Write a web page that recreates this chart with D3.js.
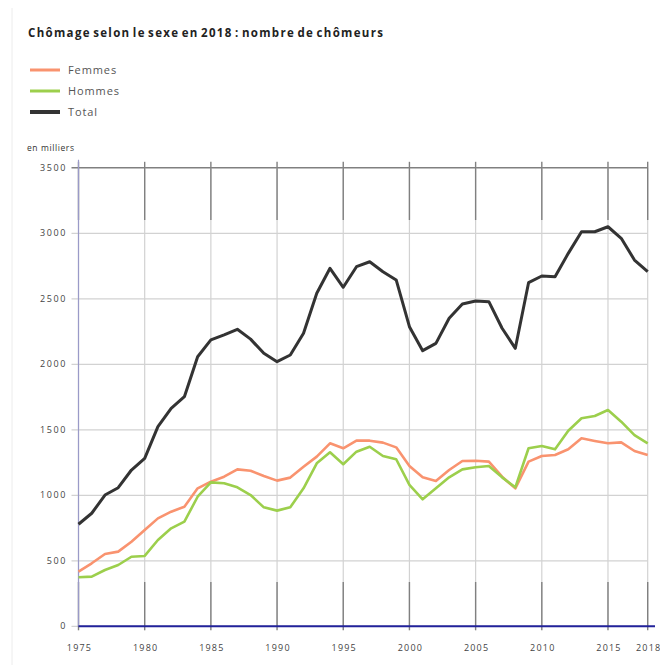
<!DOCTYPE html>
<html>
<head>
<meta charset="utf-8">
<script src="https://cdn.jsdelivr.net/npm/d3@7"></script>
<style>
  body { margin: 0; background: #fff; }
  svg text { font-family: "Open Sans", sans-serif; }
</style>
</head>
<body>
<svg id="chart" width="660" height="670"></svg>
<script>
// annees 1975 - 2018
const years = d3.range(1975, 2019);

// en milliers
const femmes = [417, 481, 552, 570, 646, 735, 824, 875, 913, 1053,
  1104, 1142, 1198, 1188, 1147, 1112, 1135, 1218, 1295, 1397,
  1359, 1417, 1417, 1402, 1366, 1224, 1137, 1109, 1193, 1262,
  1264, 1257, 1142, 1053, 1257, 1300, 1308, 1351, 1435, 1415,
  1397, 1404, 1338, 1308];

const hommes = [374, 379, 430, 468, 531, 537, 659, 748, 799, 989,
  1099, 1092, 1061, 1002, 908, 883, 908, 1053, 1244, 1328,
  1237, 1333, 1371, 1300, 1275, 1079, 969, 1053, 1137, 1198,
  1214, 1224, 1137, 1061, 1359, 1376, 1351, 1493, 1588, 1605,
  1651, 1562, 1460, 1397];

const total = [779, 863, 1002, 1058, 1193, 1282, 1524, 1664, 1753, 2058,
  2186, 2224, 2267, 2192, 2084, 2020, 2071, 2237, 2542, 2733,
  2588, 2745, 2783, 2707, 2644, 2287, 2104, 2160, 2351, 2460,
  2483, 2478, 2275, 2122, 2623, 2674, 2669, 2847, 3012, 3012,
  3050, 2962, 2796, 2707];

const xTicks = [1975, 1980, 1985, 1990, 1995, 2000, 2005, 2010, 2015, 2018];
const yTicks = [0, 500, 1000, 1500, 2000, 2500, 3000, 3500];

const series = [
  { name: "Femmes", values: femmes, color: "#f9936f", width: 2.6 },
  { name: "Hommes", values: hommes, color: "#9ccf4c", width: 2.6 },
  { name: "Total", values: total, color: "#333333", width: 3 }
];

const svg = d3.select("#chart");

const plotLeft = 78.5, plotRight = 647.7, plotTop = 167.8, plotBottom = 626.3;
const x = d3.scaleLinear().domain([1975, 2018]).range([plotLeft, plotRight]);
const y = d3.scaleLinear().domain([0, 3500]).range([plotBottom, plotTop]);

// petit trait de bordure a gauche
svg.append("line")
    .attr("x1", 12).attr("x2", 12).attr("y1", 8).attr("y2", 665)
    .style("stroke", "#ececec").style("stroke-width", 1);

// titre
svg.append("text")
    .attr("x", 28).attr("y", 37)
    .attr("textLength", 355)
    .attr("lengthAdjust", "spacing")
    .style("font-size", "11.5px")
    .style("font-weight", "bold")
    .style("fill", "#222")
    .style("word-spacing", "-2px")
    .text("Chômage selon le sexe en 2018 : nombre de chômeurs");

// legende
const legend = svg.append("g");
series.forEach((s, i) => {
    const ly = 70 + i * 21;
    legend.append("line")
        .attr("x1", 30).attr("x2", 60).attr("y1", ly).attr("y2", ly)
        .style("stroke", s.color)
        .style("stroke-width", s.name === "Total" ? 4 : 3);
    legend.append("text")
        .attr("x", 68).attr("y", ly + 4)
        .style("font-size", "11px")
        .style("fill", "#555")
        .style("letter-spacing", "0.9px")
        .text(s.name);
});

svg.append("text")
    .attr("x", 27).attr("y", 151)
    .style("font-size", "8.5px")
    .style("fill", "#333")
    .style("letter-spacing", "0.6px")
    .text("en milliers");

// grille horizontale
svg.append("g")
    .selectAll("line")
    .data(yTicks)
    .enter()
    .append("line")
    .attr("x1", plotLeft - 7).attr("x2", plotRight)
    .attr("y1", d => y(d)).attr("y2", d => y(d))
    .style("stroke", d => d === 3500 ? "#808080" : "#d2d2d2")
    .style("stroke-width", d => d === 3500 ? 1.4 : 1.2);

// grille verticale : clair au milieu, fonce en haut et en bas
const vgrid = svg.append("g");
vgrid.selectAll("line.light")
    .data(xTicks)
    .enter()
    .append("line")
    .attr("class", "light")
    .attr("x1", d => x(d)).attr("x2", d => x(d))
    .attr("y1", plotTop).attr("y2", plotBottom)
    .style("stroke", "#d2d2d2")
    .style("stroke-width", 1.2);
vgrid.selectAll("line.topTick")
    .data(xTicks)
    .enter()
    .append("line")
    .attr("class", "topTick")
    .attr("x1", d => x(d)).attr("x2", d => x(d))
    .attr("y1", plotTop - 6).attr("y2", 220)
    .style("stroke", "#808080")
    .style("stroke-width", 1.4);
vgrid.selectAll("line.botTick")
    .data(xTicks)
    .enter()
    .append("line")
    .attr("class", "botTick")
    .attr("x1", d => x(d)).attr("x2", d => x(d))
    .attr("y1", 582).attr("y2", plotBottom + 4)
    .style("stroke", "#808080")
    .style("stroke-width", 1.4);

// axe vertical
svg.append("line")
    .attr("x1", plotLeft).attr("x2", plotLeft).attr("y1", plotTop - 8).attr("y2", plotBottom)
    .style("stroke", "#9a9ac8")
    .style("stroke-width", 1.2);

// etiquettes
svg.append("g")
    .selectAll("text")
    .data(yTicks)
    .enter()
    .append("text")
    .attr("x", 67).attr("y", d => y(d) + 3)
    .attr("text-anchor", "end")
    .style("font-size", "9px")
    .style("fill", "#444")
    .style("letter-spacing", "1.6px")
    .text(d => d);

svg.append("g")
    .selectAll("text")
    .data(xTicks)
    .enter()
    .append("text")
    .attr("x", d => x(d) + 1).attr("y", 651)
    .attr("text-anchor", "middle")
    .style("font-size", "9px")
    .style("fill", "#444")
    .style("letter-spacing", "1.2px")
    .text(d => d);

// courbes
const line = d3.line()
    .x((d, i) => x(years[i]))
    .y(d => y(d));

svg.selectAll("path.serie")
    .data(series)
    .enter()
    .append("path")
    .attr("class", "serie")
    .attr("d", d => line(d.values))
    .style("fill", "none")
    .style("stroke", d => d.color)
    .style("stroke-width", d => d.width)
    .style("stroke-linejoin", "round");

// axe horizontal
svg.append("line")
    .attr("x1", plotLeft).attr("x2", 655).attr("y1", plotBottom).attr("y2", plotBottom)
    .style("stroke", "#22229a")
    .style("stroke-width", 2);
</script>
</body>
</html>
